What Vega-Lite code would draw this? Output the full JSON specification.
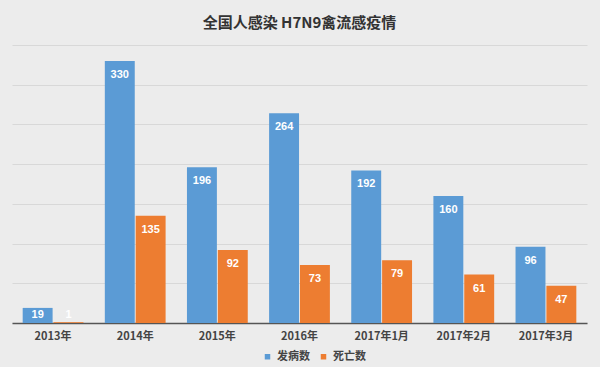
{
  "$schema": "https://vega.github.io/schema/vega-lite/v6.json",
  "width": 575,
  "height": 278,
  "padding": {"left": 12, "right": 13, "top": 16, "bottom": 5},
  "background": "#ececec",
  "title": {
    "text": "全国人感染 H7N9禽流感疫情",
    "fontSize": 15,
    "font": "Noto Sans CJK SC",
    "fontWeight": 600,
    "color": "#333333",
    "offset": 14
  },
  "data": {
    "values": [
      {"period": "2013年", "series": "发病数", "count": 19},
      {"period": "2013年", "series": "死亡数", "count": 1},
      {"period": "2014年", "series": "发病数", "count": 330},
      {"period": "2014年", "series": "死亡数", "count": 135},
      {"period": "2015年", "series": "发病数", "count": 196},
      {"period": "2015年", "series": "死亡数", "count": 92},
      {"period": "2016年", "series": "发病数", "count": 264},
      {"period": "2016年", "series": "死亡数", "count": 73},
      {"period": "2017年1月", "series": "发病数", "count": 192},
      {"period": "2017年1月", "series": "死亡数", "count": 79},
      {"period": "2017年2月", "series": "发病数", "count": 160},
      {"period": "2017年2月", "series": "死亡数", "count": 61},
      {"period": "2017年3月", "series": "发病数", "count": 96},
      {"period": "2017年3月", "series": "死亡数", "count": 47}
    ]
  },
  "encoding": {
    "x": {
      "field": "period",
      "type": "nominal",
      "sort": null,
      "scale": {"paddingInner": 0.26, "paddingOuter": 0.13},
      "axis": {
        "title": null,
        "labelAngle": 0,
        "labelFontSize": 11,
        "labelFont": "Noto Sans CJK SC",
        "labelFontWeight": "bold",
        "labelColor": "#444444",
        "domainColor": "#555555",
        "domainWidth": 1.5,
        "ticks": false,
        "labelPadding": 7
      }
    },
    "xOffset": {"field": "series", "type": "nominal", "scale": {"paddingInner": 0.03}}
  },
  "layer": [
    {
      "mark": {"type": "bar"},
      "encoding": {
        "y": {
          "field": "count",
          "type": "quantitative",
          "scale": {"domain": [0, 350]},
          "axis": {
            "title": null,
            "labels": false,
            "ticks": false,
            "domain": false,
            "values": [0, 50, 100, 150, 200, 250, 300, 350],
            "gridColor": "#d8d8d8",
            "gridWidth": 1
          }
        },
        "color": {
          "field": "series",
          "type": "nominal",
          "scale": {"domain": ["发病数", "死亡数"], "range": ["#5b9bd5", "#ed7d31"]},
          "legend": {
            "title": null,
            "orient": "none",
            "legendX": 250,
            "legendY": 306,
            "direction": "horizontal",
            "symbolType": "square",
            "symbolSize": 30,
            "labelFontSize": 11,
            "labelFont": "Noto Sans CJK SC",
            "labelFontWeight": "bold",
            "labelColor": "#444444",
            "columnPadding": 8
          }
        }
      }
    },
    {
      "mark": {
        "type": "text",
        "baseline": "top",
        "dy": 8,
        "color": "white",
        "fontWeight": "bold",
        "fontSize": 11,
        "font": "Liberation Sans",
        "y": {"expr": "scale('y', max(datum.count, 28))"}
      },
      "encoding": {
        "text": {"field": "count", "type": "quantitative"}
      }
    }
  ],
  "config": {"view": {"stroke": null}}
}
